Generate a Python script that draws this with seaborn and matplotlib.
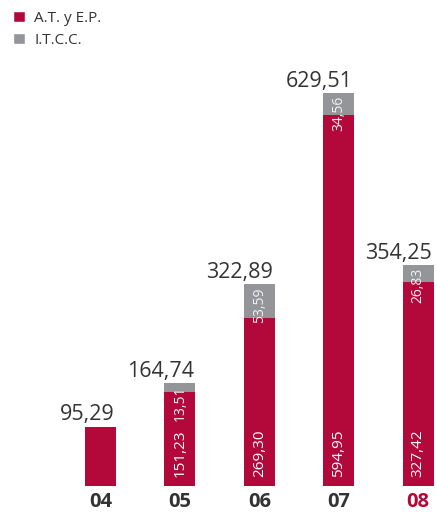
import numpy as np
import pandas as pd
import seaborn as sns
import matplotlib.pyplot as plt
from matplotlib.patches import Patch

years = ['04', '05', '06', '07', '08']
at_ep = [95.29, 151.23, 269.30, 594.95, 327.42]
itcc = [0.0, 13.51, 53.59, 34.56, 26.83]
totals = [95.29, 164.74, 322.89, 629.51, 354.25]

red = '#b3083a'
grey = '#939598'
dark = '#333333'
bar_w = 0.39

def fmt(v):
    return f'{v:.2f}'.replace('.', ',')

sns.set_style('white')
plt.rcParams['font.family'] = ['Open Sans', 'DejaVu Sans']

df = pd.DataFrame({'year': years, 'at_ep': at_ep, 'itcc': itcc, 'total': totals})

fig = plt.figure(figsize=(4.37, 5.14), dpi=100)
ax = fig.add_axes([0, 28 / 514, 1, 437 / 514])

# stacked: total (grey) underneath, red drawn over it
sns.barplot(data=df, x='year', y='total', color=grey, saturation=1, width=bar_w,
            linewidth=0, ax=ax)
sns.barplot(data=df, x='year', y='at_ep', color=red, saturation=1, width=bar_w,
            linewidth=0, ax=ax)

ax.set_xlim(-1.266, 4.239)
ax.set_ylim(0, 700)
sns.despine(ax=ax, left=True, bottom=True)
ax.set_yticks([])
ax.set_xlabel('')
ax.set_ylabel('')
ax.tick_params(axis='x', length=0, pad=4)
for i, lab in enumerate(ax.get_xticklabels()):
    lab.set_fontsize(14.5)
    lab.set_fontweight('bold')
    lab.set_color(red if i == len(years) - 1 else dark)

for i in range(len(years)):
    # totals sit right-aligned with the bar's right edge
    ax.annotate(fmt(totals[i]), (i + bar_w / 2, totals[i]), xytext=(-1, 4.5),
                textcoords='offset points', ha='right', va='baseline',
                fontsize=15.5, color=dark)
    if i > 0:
        ax.annotate(fmt(at_ep[i]), (i, 0), xytext=(0, 6.5), textcoords='offset points',
                    rotation=90, rotation_mode='anchor', ha='left', va='center',
                    fontsize=11, color='white')
    if itcc[i] > 0:
        ax.annotate(fmt(itcc[i]), (i, totals[i]), xytext=(0, -2), textcoords='offset points',
                    rotation=90, rotation_mode='anchor', ha='right', va='center',
                    fontsize=10, color='#f2f2f2')

handles = [Patch(facecolor=red, label='A.T. y E.P.'), Patch(facecolor=grey, label='I.T.C.C.')]
fig.legend(handles=handles, loc='upper left', bbox_to_anchor=(0.005, 1.0), frameon=False,
           fontsize=11, handlelength=0.8, handleheight=0.8, handletextpad=0.6,
           labelspacing=0.45, borderaxespad=0.3, labelcolor=dark)

fig.savefig('out.png', dpi=100)
